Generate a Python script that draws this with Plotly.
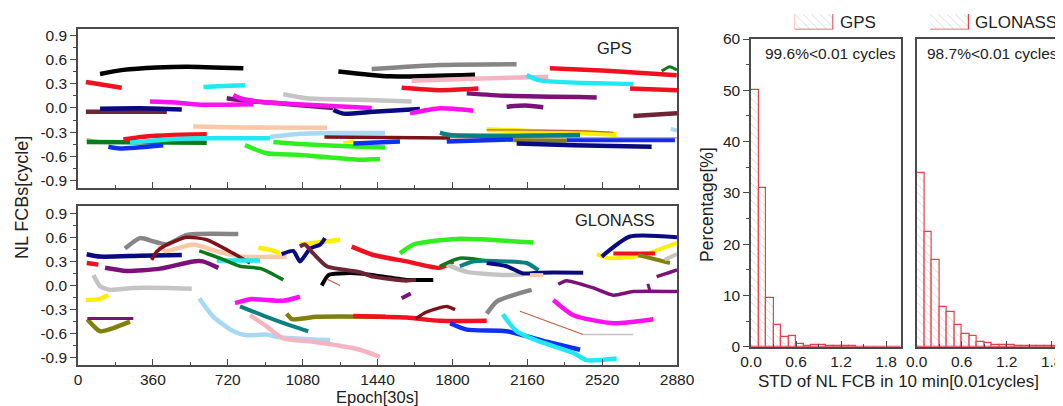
import plotly.graph_objects as go

# The page body adds an 8 px offset; the figure is sized to end at the window edge.
OFF = 8
W, H = 1063 - OFF, 406 - OFF

# ---------------- tick labels ----------------
EPOCH_TICKS = [0, 360, 720, 1080, 1440, 1800, 2160, 2520, 2880]
FCB_TICKS = [-0.9, -0.6, -0.3, 0.0, 0.3, 0.6, 0.9]
PCT_TICKS = [0, 10, 20, 30, 40, 50, 60]
STD_TICKS = [0.0, 0.6, 1.2, 1.8]

# ---------------- GPS NL FCB segments: (epochs, fcb cycles) ----------------
g01 = ([106, 218, 378, 523, 795], [0.42, 0.47, 0.50, 0.51, 0.49])
g02 = ([38, 210], [0.32, 0.25])
g03 = ([603, 700, 803], [0.26, 0.27, 0.28])
g04 = ([346, 450, 587, 843], [0.08, 0.07, 0.04, 0.045])
g05 = ([38, 427], [-0.047, -0.047])
g06 = ([106, 300, 499], [-0.01, -0.005, -0.02])
g07 = ([554, 800, 1197], [-0.23, -0.24, -0.245])
g12 = ([42, 130], [-0.39, -0.43])
g10 = ([42, 619], [-0.42, -0.43])
g08 = ([218, 314, 459, 619], [-0.39, -0.355, -0.334, -0.326])
g09 = ([250, 427, 587, 923], [-0.43, -0.39, -0.375, -0.375])
g11 = ([146, 200, 410], [-0.48, -0.50, -0.46])
g13 = ([803, 907, 1067, 1356, 1452], [-0.46, -0.56, -0.58, -0.64, -0.63])
g14 = ([939, 1067, 1356, 1476], [-0.42, -0.445, -0.48, -0.49])
g15 = ([923, 1067, 1228, 1476], [-0.36, -0.32, -0.31, -0.31])
g16 = ([987, 1100, 1356, 1604], [0.17, 0.12, 0.10, 0.08])
g17 = ([715, 800, 1000, 1228], [0.12, 0.09, 0.05, 0.0])
g18 = ([747, 780, 900, 1100, 1412], [0.16, 0.12, 0.07, 0.04, 0.0])
g19 = ([1228, 1275, 1420, 1644], [-0.026, -0.07, -0.047, -0.013])
g20 = ([1596, 1740, 1900], [-0.067, -0.005, -0.034])
g21 = ([1252, 1500, 1909], [0.45, 0.39, 0.41])
g22 = ([1412, 1740, 2109], [0.48, 0.53, 0.54])
g23 = ([1604, 1900, 2261], [0.335, 0.36, 0.385])
g24 = ([1556, 1740, 1925], [0.25, 0.22, 0.24])
g25 = ([1869, 2061, 2494], [0.18, 0.15, 0.13])
g26 = ([2061, 2150, 2237], [0.015, 0.03, 0.01])
g27 = ([2269, 2542, 2879], [0.49, 0.46, 0.405])
g28 = ([2157, 2221, 2670], [0.405, 0.34, 0.295])
g29 = ([2654, 2880], [0.24, 0.22])
g30 = ([2806, 2845, 2880], [0.455, 0.51, 0.47])
g31 = ([2670, 2880], [-0.10, -0.067])
g34 = ([1965, 2100, 2300, 2450, 2590], [-0.27, -0.28, -0.30, -0.31, -0.33])
g40 = ([1965, 2400, 2575], [-0.27, -0.28, -0.30])
g32b = ([1789, 2880], [-0.37, -0.37])
g32 = ([1185, 1789], [-0.36, -0.37])
g42 = ([1275, 1324], [-0.43, -0.41])
g33 = ([1740, 1789, 2414], [-0.305, -0.335, -0.335])
g35 = ([1324, 1548], [-0.44, -0.415])
g36 = ([1773, 2093], [-0.415, -0.39])
g39 = ([2093, 2349], [-0.40, -0.405])
g37 = ([2109, 2382, 2758], [-0.44, -0.46, -0.48])
g38 = ([2349, 2870], [-0.40, -0.40])
g41 = ([2850, 2880], [-0.26, -0.28])

# ---------------- GLONASS NL FCB segments ----------------
r01 = ([42, 106, 298, 499], [0.39, 0.36, 0.37, 0.38])
r02 = ([42, 98], [0.28, 0.26])
r03 = ([130, 234, 394, 554, 600, 675], [0.22, 0.18, 0.21, 0.30, 0.30, 0.22])
r04 = ([74, 106, 154, 266, 427, 547], [0.13, -0.01, -0.055, -0.03, -0.03, -0.04])
r05 = ([38, 100, 146], [-0.18, -0.17, -0.12])
r07 = ([45, 106, 170, 250], [-0.42, -0.57, -0.53, -0.45])
r06 = ([45, 266], [-0.41, -0.41])
r08 = ([226, 298, 362, 427, 523, 771], [0.46, 0.59, 0.55, 0.51, 0.63, 0.64])
r10 = ([386, 420, 554, 651, 779, 1003], [0.49, 0.43, 0.51, 0.44, 0.36, 0.36])
r09 = ([354, 378, 420, 523, 619, 747, 827], [0.32, 0.42, 0.50, 0.60, 0.57, 0.40, 0.28])
r11 = ([667, 875], [0.31, 0.31])
r12 = ([583, 682, 779, 880, 987], [0.43, 0.34, 0.24, 0.21, 0.07])
r13 = ([867, 930, 971], [0.47, 0.44, 0.40])
r13b = ([1067, 1260], [0.51, 0.57])
r14 = ([979, 1035, 1067, 1116, 1164, 1188], [0.39, 0.43, 0.30, 0.46, 0.51, 0.59])
r16 = ([1172, 1204, 1260, 1356, 1580, 1708], [0.0, 0.13, 0.15, 0.15, 0.07, 0.07])
r15 = ([1067, 1090, 1131, 1196, 1356, 1420, 1577, 1625], [0.485, 0.51, 0.40, 0.24, 0.166, 0.11, 0.06, 0.07])
r17 = ([1196, 1260], [0.08, 0.0])
r18 = ([755, 827, 987, 1067], [-0.22, -0.17, -0.19, -0.14])
r19 = ([583, 651, 747, 811, 907, 955, 1212], [-0.16, -0.39, -0.57, -0.62, -0.61, -0.64, -0.68])
r20 = ([779, 907, 1035, 1107], [-0.26, -0.39, -0.51, -0.57])
r21 = ([827, 907, 987, 1131, 1356, 1452], [-0.37, -0.51, -0.66, -0.70, -0.80, -0.89])
r22 = ([1003, 1030, 1148, 1476], [-0.35, -0.42, -0.39, -0.39])
r23 = ([1324, 1580, 1740, 1965], [-0.38, -0.40, -0.44, -0.44])
r24 = ([1625, 1676, 1773, 1813], [-0.41, -0.33, -0.26, -0.30])
r25 = ([1316, 1420, 1580, 1740, 1804], [0.485, 0.38, 0.30, 0.22, 0.30])
r26 = ([1548, 1612, 1821, 2189], [0.40, 0.51, 0.58, 0.535])
r28 = ([1773, 1869, 2061, 2141], [0.26, 0.17, 0.13, 0.14])
r27 = ([1740, 1836, 1981], [0.24, 0.34, 0.30])
r29 = ([1836, 1900, 2061, 2157, 2214], [0.24, 0.30, 0.30, 0.28, 0.19])
r30 = ([1965, 2061, 2141, 2221, 2429], [0.28, 0.24, 0.15, 0.16, 0.16])
r31 = ([2173, 2237], [0.13, 0.13])
r32 = ([1556, 1600], [-0.16, -0.10])
r33 = ([1965, 2013, 2093, 2181], [-0.35, -0.20, -0.12, -0.055])
r34 = ([1789, 1869, 2061, 2253, 2414], [-0.47, -0.55, -0.57, -0.70, -0.80])
r35 = ([2042, 2109, 2221, 2382, 2446, 2590], [-0.36, -0.57, -0.70, -0.84, -0.93, -0.91])
r36 = ([2125, 2429], [-0.32, -0.61])
r37 = ([2429, 2670], [-0.61, -0.61])
r38 = ([2309, 2349, 2478, 2574, 2670, 2880], [0.016, 0.06, -0.03, -0.12, -0.075, -0.075])
r38b = ([2740, 2750], [0.02, -0.07])
r38c = ([2782, 2830, 2880], [0.11, 0.15, 0.195])
r39 = ([2285, 2382, 2574, 2766], [-0.18, -0.37, -0.47, -0.42])
r41 = ([2494, 2550, 2702, 2880], [0.39, 0.34, 0.37, 0.53])
r40 = ([2518, 2654, 2880], [0.36, 0.61, 0.60])
r42 = ([2574, 2774], [0.40, 0.40])
r43 = ([2694, 2846], [0.38, 0.28])
r44 = ([2820, 2880], [0.32, 0.39])

# ---------------- histogram data ----------------
STD_BIN_CENTERS = [0.05, 0.15, 0.25, 0.35, 0.45, 0.55, 0.65, 0.75, 0.85, 0.95,
                   1.05, 1.15, 1.25, 1.35, 1.45, 1.55, 1.65, 1.75, 1.85, 1.95]
GPS_PCT = [50.0, 31.0, 9.4, 4.3, 1.9, 2.1, 0.5, 0.1, 0.3, 0.3,
           0.1, 0.2, 0.2, 0.05, 0.0, 0.0, 0.0, 0.0, 0.0, 0.0]
GLONASS_PCT = [33.9, 22.4, 16.9, 7.8, 6.8, 4.2, 2.5, 2.0, 1.0, 0.8,
               0.3, 0.3, 0.3, 0.2, 0.1, 0.1, 0.1, 0.1, 0.05, 0.05]
HIST_NOTES = ["99.6%<0.01 cycles", "98.7%<0.01 cycles"]

# ---------------- colours ----------------
BLACK = "#000000"; RED = "#f01020"; CYAN = "#22e8f2"; MAGENTA = "#ff10f0"
MAROON = "#6e2535"; NAVY = "#0a0a80"; PEACH = "#f8c8a8"; GREEN = "#30ee20"
DGREEN = "#0a7a1a"; BLUE = "#1030f0"; LGRAY = "#c4c4c4"; GRAY = "#868686"
PINK = "#f4b4c2"; PURPLE = "#7a1278"; TEAL = "#0a8080"; YELLOW = "#f8f000"
OLIVE = "#808010"; LBLUE = "#a8d8f2"; DRED = "#80101a"; SIENNA = "#c06040"
TAN = "#d8a080"

gps_list = [
    (g16, LGRAY, 4.5), (g17, PURPLE, 4.5), (g18, MAGENTA, 4.5), (g04, MAGENTA, 4.5),
    (g01, BLACK, 4.5), (g02, RED, 4.5), (g03, CYAN, 4.5), (g05, MAROON, 4.5),
    (g06, NAVY, 4.5), (g07, PEACH, 4.5), (g12, TAN, 3), (g10, DGREEN, 4.5),
    (g08, RED, 4.5), (g09, CYAN, 4.5), (g11, BLUE, 4.5), (g13, GREEN, 4.5),
    (g14, GREEN, 4.5), (g15, LBLUE, 4.5), (g19, NAVY, 4.5), (g20, MAGENTA, 4.5),
    (g21, BLACK, 4.5), (g22, GRAY, 4.5), (g23, PINK, 4.5), (g24, RED, 4.5),
    (g25, PURPLE, 4.5), (g26, PURPLE, 4.5), (g28, CYAN, 4.5), (g27, RED, 4.5),
    (g29, RED, 4.5), (g30, DGREEN, 3), (g31, MAROON, 4.5), (g34, YELLOW, 5),
    (g40, SIENNA, 1.2), (g32b, SIENNA, 1), (g32, DRED, 3.5), (g42, YELLOW, 3),
    (g33, TEAL, 4.5), (g35, BLUE, 4.5), (g36, BLUE, 4.5), (g39, OLIVE, 4),
    (g37, NAVY, 4.5), (g38, BLUE, 4), (g41, LBLUE, 4),
]

glo_list = [
    (r01, NAVY, 4.5), (r02, RED, 4.5), (r03, PURPLE, 4.5), (r04, LGRAY, 4.5),
    (r05, YELLOW, 4.5), (r07, OLIVE, 4.5), (r06, PURPLE, 3), (r08, GRAY, 4.5),
    (r10, PEACH, 4.5), (r09, DRED, 3.5), (r11, CYAN, 4.5), (r12, DGREEN, 3.5),
    (r13, YELLOW, 4.5), (r13b, YELLOW, 4.5), (r14, NAVY, 4), (r16, BLACK, 4),
    (r15, MAROON, 4), (r17, SIENNA, 1.2), (r18, MAGENTA, 4.5), (r19, LBLUE, 4.5),
    (r20, TEAL, 4), (r21, PINK, 4.5), (r22, OLIVE, 4.5), (r23, RED, 4.5),
    (r24, DRED, 3.5), (r25, RED, 4.5), (r26, GREEN, 4.5), (r28, LGRAY, 4.5),
    (r27, DGREEN, 3.5), (r29, TEAL, 4), (r30, NAVY, 4), (r31, PEACH, 4),
    (r32, PURPLE, 4), (r33, GRAY, 4.5), (r34, BLUE, 4.5), (r35, CYAN, 4.5),
    (r36, SIENNA, 1.2), (r37, LGRAY, 1.5), (r38, PURPLE, 3.5), (r38b, PURPLE, 3),
    (r38c, PURPLE, 3.5), (r39, MAGENTA, 4.5), (r41, YELLOW, 4), (r40, NAVY, 4),
    (r42, RED, 4), (r43, OLIVE, 4), (r44, LGRAY, 4),
]

fig = go.Figure()
for (ep, v), col, wd in gps_list:
    fig.add_trace(go.Scatter(x=ep, y=v, mode="lines", line=dict(color=col, width=wd, shape="spline", smoothing=0.6),
                             xaxis="x", yaxis="y", hoverinfo="skip"))
for (ep, v), col, wd in glo_list:
    fig.add_trace(go.Scatter(x=ep, y=v, mode="lines", line=dict(color=col, width=wd, shape="spline", smoothing=0.6),
                             xaxis="x2", yaxis="y2", hoverinfo="skip"))

HATCH = dict(shape="\\", fgcolor="#a6a6a6", bgcolor="white", size=6, solidity=0.14)
BAR_LINE = dict(color="#e8404c", width=1.2)
fig.add_trace(go.Bar(x=STD_BIN_CENTERS, y=GPS_PCT, width=0.1, xaxis="x3", yaxis="y3",
                     marker=dict(color="white", pattern=HATCH, line=BAR_LINE)))
fig.add_trace(go.Bar(x=STD_BIN_CENTERS, y=GLONASS_PCT, width=0.1, xaxis="x4", yaxis="y4",
                     marker=dict(color="white", pattern=HATCH, line=BAR_LINE)))
# legend swatches
fig.add_trace(go.Bar(x=[0.5], y=[1], width=1, xaxis="x5", yaxis="y5",
                     marker=dict(color="white", pattern=HATCH, line=BAR_LINE)))
fig.add_trace(go.Bar(x=[0.5], y=[1], width=1, xaxis="x6", yaxis="y6",
                     marker=dict(color="white", pattern=HATCH, line=BAR_LINE)))

FONT = "Liberation Sans, Arial, sans-serif"
AX = "#4a4a4a"
TF = dict(family=FONT, size=15.5, color="#222")


def px(x):
    return (x - OFF) / W


def py(y):
    return 1 - (y - OFF) / H


def fcb_x(labels=True):
    return dict(range=[0, 2880], tickvals=EPOCH_TICKS, ticks="inside", ticklen=6, tickwidth=1.2,
                tickcolor=AX, showline=True, linecolor=AX, linewidth=1.5, mirror=True,
                showgrid=False, zeroline=False, showticklabels=labels, tickfont=TF,
                minor=dict(dtick=180, tick0=0, ticks="inside", ticklen=3, tickcolor=AX, showgrid=False))


def fcb_y(rng):
    return dict(range=rng, tickvals=FCB_TICKS, ticktext=["%.1f" % t for t in FCB_TICKS],
                ticks="outside", ticklen=6, tickwidth=1.2, tickcolor=AX, showline=True,
                linecolor=AX, linewidth=1.5, mirror=True, showgrid=False, zeroline=False,
                tickfont=TF, minor=dict(dtick=0.15, tick0=0, ticks="outside", ticklen=3,
                                        tickcolor=AX, showgrid=False))


def hist_x(dom, rng):
    return dict(domain=dom, range=rng, tickvals=STD_TICKS, ticktext=["%.1f" % t for t in STD_TICKS],
                ticks="inside", ticklen=6, tickwidth=1.2, tickcolor=AX, showline=True, linecolor=AX,
                linewidth=1.5, mirror=True, showgrid=False, zeroline=False, tickfont=TF,
                minor=dict(dtick=0.3, tick0=0, ticks="inside", ticklen=3, tickcolor=AX, showgrid=False))


def hist_y(dom, labels, mirror):
    d = dict(domain=dom, range=[0, 60], tickvals=PCT_TICKS, showline=True, linecolor=AX,
             linewidth=1.5, mirror=mirror, showgrid=False, zeroline=False, tickfont=TF,
             showticklabels=labels)
    if labels:
        d.update(ticks="outside", ticklen=6, tickwidth=1.2, tickcolor=AX,
                 minor=dict(dtick=5, tick0=0, ticks="outside", ticklen=3, tickcolor=AX, showgrid=False))
    else:
        d.update(ticks="")
    return d


hide = dict(visible=False, range=[0, 1], fixedrange=True)

lay = dict(
    width=W, height=H, margin=dict(l=0, r=0, t=0, b=0, pad=0, autoexpand=False), showlegend=False,
    paper_bgcolor="white", plot_bgcolor="white", bargap=0, font=dict(family=FONT),
)
xa1 = fcb_x(labels=False); xa1["domain"] = [px(78), px(677)]; xa1["anchor"] = "y"
ya1 = fcb_y([-0.985, 0.975]); ya1["domain"] = [py(187.7), py(29)]; ya1["anchor"] = "x"
xa2 = fcb_x(labels=True); xa2["domain"] = [px(78), px(677)]; xa2["anchor"] = "y2"
ya2 = fcb_y([-0.99, 0.99]); ya2["domain"] = [py(365), py(206)]; ya2["anchor"] = "x2"
xa3 = hist_x([px(751), px(901)], [0, 2.0]); xa3["anchor"] = "y3"
ya3 = hist_y([py(346.7), py(39)], True, True); ya3["anchor"] = "x3"
xa4 = hist_x([px(916.7), 1.0], [0, (1063 - 916.7) / 75.0]); xa4["anchor"] = "y4"
ya4 = hist_y([py(346.7), py(39)], False, False); ya4["anchor"] = "x4"

lay.update(xaxis=xa1, yaxis=ya1, xaxis2=xa2, yaxis2=ya2, xaxis3=xa3, yaxis3=ya3,
           xaxis4=xa4, yaxis4=ya4,
           xaxis5=dict(hide, domain=[px(794.5), px(833.5)], anchor="y5"),
           yaxis5=dict(hide, domain=[py(29.5), py(14)], anchor="x5"),
           xaxis6=dict(hide, domain=[px(930), px(969)], anchor="y6"),
           yaxis6=dict(hide, domain=[py(29.5), py(14)], anchor="x6"))

ann = []


def add_text(text, x, y, size=15, xanchor="center", angle=0):
    ann.append(dict(text=text, x=px(x), y=py(y), xref="paper", yref="paper", showarrow=False,
                    xanchor=xanchor, yanchor="middle", textangle=angle,
                    font=dict(family=FONT, size=size, color="#222")))


add_text("GPS", 614, 47.5, 16.5)
add_text("GLONASS", 615, 220, 16.5)
add_text("Epoch[30s]", 377.5, 397, 16.5)
add_text("NL FCBs[cycle]", 22, 198, 18, angle=-90)
add_text("Percentage[%]", 707, 205, 17.5, angle=-90)
add_text("STD of NL FCB in 10 min[0.01cycles]", 898, 381, 17)
add_text(HIST_NOTES[0], 830, 53.5, 15.5)
add_text(HIST_NOTES[1], 992, 53.5, 15.5)
add_text("GPS", 838, 22, 17, xanchor="left")
add_text("GLONASS", 973, 22, 17, xanchor="left")
lay["annotations"] = ann

fig.update_layout(**lay)
fig.write_html("out.html")
